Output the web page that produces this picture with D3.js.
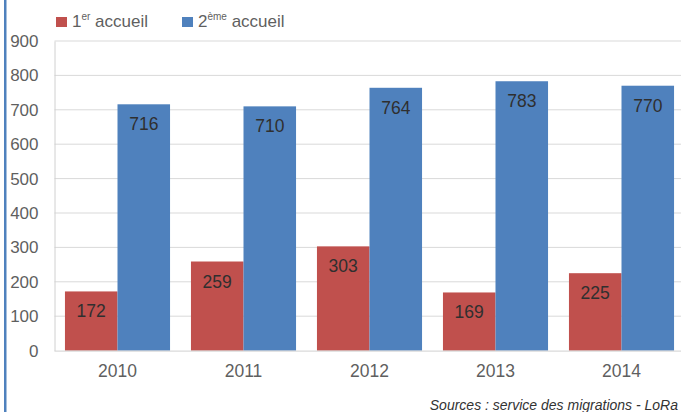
<!DOCTYPE html>
<html><head><meta charset="utf-8">
<script src="https://cdn.jsdelivr.net/npm/d3@7"></script>
<style>body{margin:0;background:#fff;overflow:hidden}svg{display:block}</style>
</head><body>
<script>
const years = ["2010","2011","2012","2013","2014"];
const premierAccueil = [172, 259, 303, 169, 225];
const deuxiemeAccueil = [716, 710, 764, 783, 770];
const yTicks = [0,100,200,300,400,500,600,700,800,900];
const seriesNames = [["1","er"," accueil"],["2","ème"," accueil"]];
const sourceText = "Sources : service des migrations - LoRa";

const W = 681, H = 412;
const svg = d3.select("body").append("svg").attr("width", W).attr("height", H);
const font = "'Liberation Sans', Arial, sans-serif";
const colors = ["#c0504d", "#4f81bd"];

// left border
svg.append("rect").attr("x",4).attr("y",0).attr("width",2.5).attr("height",H).attr("fill","#4f81bd");

const x0 = 54.5, x1 = 684.5, yTop = 41, yBot = 350.6;
const x = d3.scaleBand().domain(years).range([x0, x1]).paddingInner(0.166).paddingOuter(0.083);
const xs = d3.scaleBand().domain([0,1]).range([0, x.bandwidth()]);
const y = d3.scaleLinear().domain([0,900]).range([yBot, yTop]);

// gridlines
svg.append("g").selectAll("line").data(yTicks.filter(d=>d>0)).join("line")
  .attr("x1", x0).attr("x2", W).attr("y1", d=>y(d)).attr("y2", d=>y(d))
  .attr("stroke", "#d9d9d9").attr("stroke-width", 1);

// y axis
const ya = svg.append("g").attr("transform", `translate(${x0},0)`)
  .call(d3.axisLeft(y).tickValues(yTicks).tickSize(0).tickPadding(16));
ya.select(".domain").attr("stroke","#d0d0d0");
ya.selectAll("text").attr("font-family", font).attr("font-size", 17).attr("fill", "#5f5f5f");

const data = years.map((yr,i)=>({yr, vals:[premierAccueil[i], deuxiemeAccueil[i]]}));
const g = svg.append("g").selectAll("g").data(data).join("g")
  .attr("transform", d=>`translate(${x(d.yr)},0)`);
g.selectAll("rect").data(d=>d.vals.map((v,k)=>({v,k}))).join("rect")
  .attr("x", d=>xs(d.k)).attr("width", xs.bandwidth())
  .attr("y", d=>y(d.v)).attr("height", d=>y(0)-y(d.v))
  .attr("fill", d=>colors[d.k]);
g.selectAll("text").data(d=>d.vals.map((v,k)=>({v,k}))).join("text")
  .attr("x", d=>xs(d.k)+xs.bandwidth()/2).attr("y", d=>y(d.v)+26)
  .attr("text-anchor","middle").attr("font-family", font).attr("font-size", 17.5)
  .attr("fill", "#2f2f2f").text(d=>d.v);

// x axis
const xa = svg.append("g").attr("transform", `translate(0,${yBot})`)
  .call(d3.axisBottom(x).tickSize(0).tickPadding(14));
xa.select(".domain").attr("stroke","#d0d0d0").attr("d", `M${x0},0.5H${W}`);
xa.selectAll("text").attr("font-family", font).attr("font-size", 17.5).attr("fill", "#5f5f5f");

// legend
const legX = [56, 182];
seriesNames.forEach((parts, k)=>{
  svg.append("rect").attr("x", legX[k]).attr("y", 17).attr("width", 11).attr("height", 10).attr("fill", colors[k]);
  const t = svg.append("text").attr("x", legX[k]+16).attr("y", 27)
    .attr("font-family", font).attr("font-size", 17).attr("fill", "#5f5f5f");
  t.append("tspan").text(parts[0]);
  t.append("tspan").attr("font-size", 10).attr("dy", -7).text(parts[1]);
  t.append("tspan").attr("dy", 7).text(parts[2]);
});

// source
svg.append("text").attr("x", 678).attr("y", 410).attr("text-anchor","end")
  .attr("font-family", font).attr("font-size", 14).attr("font-style","italic")
  .attr("fill", "#333").text(sourceText);
</script>
</body></html>
